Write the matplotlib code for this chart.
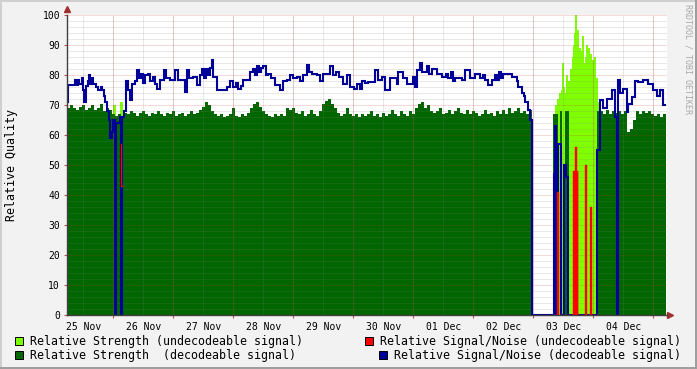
import numpy as np
import matplotlib
matplotlib.use('Agg')
import matplotlib.pyplot as plt
from matplotlib.patches import Rectangle

# time is in hours from the left edge of the graph (10 days shown)
coarse_step = 1.2
fine_step = 0.4
data_end = 239.2

day_labels = ['25 Nov', '26 Nov', '27 Nov', '28 Nov', '29 Nov',
              '30 Nov', '01 Dec', '02 Dec', '03 Dec', '04 Dec']

# Relative Strength (decodeable), regular samples from hour 0 up to the gap
strength_dec_a = [
    69, 70, 69, 68.5, 69.5, 70, 68.5, 69, 70, 68.5,
    69, 70.5, 68, 69, 68.5, 67, 66.5, 67, 66.5, 67.5,
    67, 68, 67.5, 66.5, 67.5, 68, 67, 66.5, 67.5, 67,
    68, 67, 66.5, 67.5, 67, 68, 66.5, 67, 67.5, 66.5,
    67, 68, 67, 67.5, 68.5, 69.5, 71, 70, 68, 67,
    66.5, 67, 66, 66.5, 67, 69, 66.5, 66, 67, 66.5,
    67.5, 69, 70.5, 71, 69.5, 68, 67, 66.5, 66, 67,
    66.5, 67, 66.5, 69, 68.5, 69, 67.5, 67, 68, 66.5,
    67, 68.5, 67, 66.5, 68, 70.5, 71.5, 72, 70.5, 69,
    67.5, 66.5, 67, 69, 67, 66.5, 67, 66, 67, 66.5,
    67, 68, 66.5, 67, 66, 67.5, 66.5, 67, 68.5, 67,
    66.5, 68, 67, 66.5, 68, 67, 69, 70.5, 71, 69,
    70, 68, 67.5, 68, 69, 67, 67.5, 68.5, 67, 68,
    69, 67.5, 67, 68.5, 67, 68, 67.5, 66.5, 67, 68.5,
    67, 67.5, 66.5, 68, 67, 68.5, 67, 69, 67.5, 68,
    69, 67.5, 68, 67, 68.5,
]
# after the mixed period
strength_dec_b_start = 213.2
strength_dec_b = [68, 67, 68.5, 67, 68, 67.5, 68, 67, 68, 61, 62,
                  65, 68, 67, 68, 67.5, 68, 67, 66.5, 67, 66, 67]
# short decodeable moments inside the mixed period
strength_dec_mix_hours = [194.4, 194.8, 195.2, 195.6, 197.2, 199.2, 199.6, 200.0, 212.0, 212.4, 212.8]
strength_dec_mix = [67, 67, 67, 67, 68, 68, 68, 68, 68, 68, 68]

# Relative Strength (undecodeable)
strength_und_left_hours = [18.4, 18.8, 21.2, 21.6]
strength_und_left = [70, 70, 71, 71]
strength_und_mix_start = 194.4
strength_und_mix = [
    66, 67, 70, 68, 72, 70, 74, 71, 75, 84,
    76, 72, 74, 80, 75, 78, 76, 82, 79, 86,
    90, 94, 100, 91, 95, 85, 89, 83, 88, 93,
    84, 80, 86, 90, 84, 89, 82, 87, 78, 85,
    83, 86, 74, 79, 71,
]

# Relative Signal/Noise (decodeable), step values
sn_dec_hours = [
    0, 0.4, 3.2, 4.0, 4.4, 4.8, 6.0, 6.4, 6.8, 7.6, 8.4, 8.8, 9.2, 10.0, 10.4,
    11.6, 12.4, 13.6, 14.0, 14.8, 15.2, 16.0, 16.8, 17.2, 18.0, 18.4, 19.2, 19.6,
    21.2, 21.6, 22.0, 22.8, 23.6, 24.4, 25.2, 26.0, 27.2, 28.0, 28.8, 29.6, 30.4,
    31.2, 32.4, 33.2, 34.4, 35.2, 36.0, 37.2, 38.8, 39.6, 41.2, 43.2, 44.4, 47.2,
    48.0, 48.8, 50.4, 52.0, 53.2, 54.0, 54.8, 55.6, 56.4, 57.2, 58.0, 58.4, 60.0,
    64.0, 65.2, 66.4, 67.6, 68.4, 69.6, 70.4, 73.2, 74.4, 75.2, 76.0, 76.8, 77.6,
    78.4, 79.6, 80.4, 81.6, 83.2, 85.2, 86.4, 88.0, 89.2, 90.4, 92.0, 93.2, 94.4,
    96.0, 96.8, 98.0, 100.0, 101.2, 102.4, 105.2, 106.4, 107.6, 108.8, 110.4,
    112.0, 113.2, 114.8, 116.0, 117.2, 118.0, 119.2, 120.4, 123.2, 124.4, 126.0,
    127.2, 129.2, 132.0, 132.4, 134.4, 136.0, 138.4, 139.2, 140.0, 141.2, 142.0,
    144.0, 144.8, 146.0, 148.0, 150.0, 151.6, 152.4, 153.6, 154.4, 155.2, 158.0,
    159.2, 161.2, 163.2, 165.2, 166.4, 167.2, 168.4, 170.0, 171.2, 172.0, 172.8,
    173.6, 174.4, 176.0, 178.0, 180.0, 180.4, 182.0, 182.8, 183.2, 184.4, 185.2,
    186.0, 194.8, 195.2, 195.6, 196.4, 197.6, 198.8, 199.6, 200.4, 212.0, 213.2,
    214.4, 216.0, 218.0, 219.2, 220.0, 220.4, 221.2, 222.4, 224.0, 224.4, 226.0,
    227.2, 228.4, 230.4, 232.4, 234.4, 236.0, 237.2, 238.4,
]
sn_dec = [
    71, 76.7, 78.5, 76.7, 78.5, 77, 79, 75, 71, 76.5, 78, 80, 77, 79, 77,
    76, 75, 76, 75, 73, 71, 68, 65, 59, 61, 65, 0, 64,
    66, 0, 66, 68, 78, 75, 71.7, 77, 78, 81.7, 79, 80.5, 77.5,
    80, 80.5, 78, 79.5, 77, 75.5, 78.3, 81.7, 79, 78.5, 81.7, 78.3, 74.5,
    81.7, 79, 79.5, 76.7, 80, 82, 79, 82, 80, 82.5, 85, 79.4, 75,
    76, 78, 76, 77.5, 75.5, 76.5, 78.3, 81, 82, 80, 83, 81, 82.5,
    83, 80, 80.5, 79, 76.7, 75, 78, 78.5, 80, 79, 79.5, 78, 80,
    83.5, 81, 80.5, 80, 78, 80.5, 83, 80, 81, 79.5, 77,
    80, 76, 75.5, 77, 75.5, 78, 77.2, 77.8, 81.7, 78.3, 79.4,
    75, 79, 77, 81, 79, 77, 79.5, 76, 81.7, 84, 81,
    83, 80.5, 82, 80.5, 79.5, 80.5, 79, 81, 78, 79, 78.3,
    81.7, 79, 80.5, 79, 80, 78.3, 76.7, 78.3, 80, 78.5, 81,
    79, 80.5, 80.5, 79.5, 78, 76, 74, 73, 71, 68.3, 65,
    0, 47, 63, 0, 57, 0, 50, 46, 0, 55, 71.7,
    69, 72, 75, 66, 0, 78.3, 74, 75.5, 67.8, 70.5, 72.8,
    78, 77.8, 78.3, 77, 75, 73, 75, 70,
]

# Relative Signal/Noise (undecodeable), step values, nan = nothing drawn
sn_und_hours = [21.4, 21.6, 21.8, 194.4, 196.0, 196.4,
                202.4, 202.6, 202.8, 203.0, 203.2, 203.4, 203.6, 203.8, 204.0,
                207.2, 207.6, 209.2, 209.6, 212.0]
sn_und = [57, 43, np.nan, 0, 41, 0,
          48, 0, 48, 0, 56, 40, 0, 48, 0,
          50, 0, 36, 0, np.nan]

dark_green = '#006600'
light_green = '#80ff00'
sn_red = '#ff0000'
sn_blue = '#000099'
mono = 'DejaVu Sans Mono'

fig = plt.figure(figsize=(6.97, 3.69), dpi=100, facecolor='#f2f2f2')
ax = fig.add_axes([67 / 697, 54 / 369, 600 / 697, 300 / 369])
ax.set_facecolor('white')
ax.set_xlim(0, 240)
ax.set_ylim(0, 100)

# grid, drawn semi-transparent over the areas as rrdtool does
minor_grid = dict(color='#808080', alpha=0.35, lw=0.72, ls=(0, (1, 1)), zorder=2.5)
major_grid = dict(color='#d03030', alpha=0.35, lw=0.72, ls=(0, (1, 1)), zorder=2.6)
for h in np.arange(6.4, 240, 12):
    ax.axvline(h, **minor_grid)
for h in np.arange(18.4, 240, 24):
    ax.axvline(h, **major_grid)
for v in range(2, 101, 2):
    ax.axhline(v, **(major_grid if v % 10 == 0 else minor_grid))


def area(hours, vals, width, color, overlap=1.05):
    ax.bar(hours, vals, width=width * overlap, align='edge', color=color,
           linewidth=0, antialiased=False, zorder=2)


hours_a = np.arange(len(strength_dec_a)) * coarse_step
hours_b = strength_dec_b_start + np.arange(len(strength_dec_b)) * coarse_step
hours_mix = strength_und_mix_start + np.arange(len(strength_und_mix)) * fine_step

area(strength_und_left_hours, strength_und_left, fine_step, light_green, 1.5)
area(hours_mix, strength_und_mix, fine_step, light_green, 1.5)
area(hours_a, strength_dec_a, coarse_step, dark_green)
area(hours_b, strength_dec_b, coarse_step, dark_green)
area(strength_dec_mix_hours, strength_dec_mix, fine_step, dark_green, 1.5)

ax.plot(sn_dec_hours + [data_end], sn_dec + [sn_dec[-1]], drawstyle='steps-post',
        color=sn_blue, lw=1.5, zorder=3, solid_joinstyle='miter')
ax.plot(sn_und_hours, sn_und, drawstyle='steps-post', color=sn_red, lw=1.0, zorder=4)

# axes
for s in ['top', 'right']:
    ax.spines[s].set_visible(False)
for s in ['left', 'bottom']:
    ax.spines[s].set_color('#404040')
    ax.spines[s].set_linewidth(1.0)
    ax.spines[s].set_zorder(5)
ax.plot([0], [1.02], marker='^', color='#a03030', ms=4, transform=ax.transAxes, clip_on=False)
ax.plot([1.005], [0], marker='>', color='#a03030', ms=4, transform=ax.transAxes, clip_on=False)

ax.set_yticks(range(0, 101, 10))
ax.set_yticklabels([str(v) for v in range(0, 101, 10)], fontfamily=mono, fontsize=7)
ax.tick_params(axis='y', length=2, width=0.8, color='#c05050', pad=3)
ax.set_xticks(6.8 + 24 * np.arange(len(day_labels)))
ax.set_xticklabels(day_labels, fontfamily=mono, fontsize=7)
ax.tick_params(axis='x', length=0, pad=5)
ax.set_xticks(np.arange(18.4, 240, 24), minor=True)
ax.tick_params(axis='x', which='minor', length=2, width=0.8, color='#c05050')

fig.text(12 / 697, 1 - 165 / 369, 'Relative Quality', rotation=90, ha='center', va='center',
         fontfamily=mono, fontsize=8.4)
fig.text(688 / 697, 1 - 4 / 369, 'RRDTOOL / TOBI OETIKER', rotation=270, ha='center', va='top',
         fontfamily=mono, fontsize=6, color='#a8a8a8')

# legend
legend_items = [
    (15, 341, light_green, 'Relative Strength (undecodeable signal)'),
    (15, 355, dark_green, 'Relative Strength  (decodeable signal)'),
    (365, 341, sn_red, 'Relative Signal/Noise (undecodeable signal)'),
    (379, 355, sn_blue, 'Relative Signal/Noise (decodeable signal)'),
]
for x, y, c, label in legend_items:
    fig.add_artist(Rectangle((x / 697, (369 - y - 4) / 369), 8 / 697, 8 / 369,
                             transform=fig.transFigure, facecolor=c, edgecolor='black', lw=0.7))
    fig.text((x + 15) / 697, (369 - y) / 369, label, ha='left', va='center',
             fontfamily=mono, fontsize=8.4)

# canvas shading
fig.add_artist(Rectangle((0, 0), 2 / 697, 1, transform=fig.transFigure, color='#cfcfcf', lw=0))
fig.add_artist(Rectangle((0, 1 - 2 / 369), 1, 2 / 369, transform=fig.transFigure, color='#cfcfcf', lw=0))
fig.add_artist(Rectangle((1 - 2 / 697, 0), 2 / 697, 1, transform=fig.transFigure, color='#9e9e9e', lw=0))
fig.add_artist(Rectangle((0, 0), 1, 2 / 369, transform=fig.transFigure, color='#9e9e9e', lw=0))

fig.savefig('out.png', dpi=100, facecolor=fig.get_facecolor())
